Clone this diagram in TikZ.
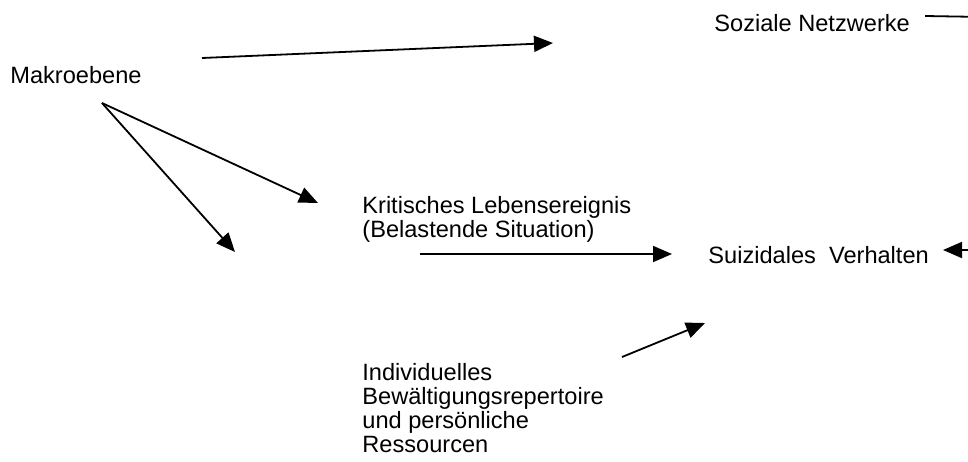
\documentclass[tikz,border=0pt]{standalone}
\usepackage{fontspec}
\setmainfont{Liberation Sans}
\usetikzlibrary{arrows.meta}
\tikzset{
  pfeil/.style={line width=0.9pt,-{Triangle[length=9.5pt,width=8pt]}},
  linie/.style={line width=0.9pt},
  txt/.style={inner sep=0pt,anchor=base west,align=left,font=\fontsize{11.8}{12}\selectfont}
}
\begin{document}
\begin{tikzpicture}[x=0.5pt,y=-0.5pt]
  \useasboundingbox (0,0) rectangle (968,461);

  % Texte (base west = Grundlinie der letzten Zeile)
  \node[txt] (makro) at (10,83) {Makroebene};
  \node[txt] (netz) at (714,31) {Soziale Netzwerke};
  \node[txt] (krit) at (362,237) {Kritisches Lebensereignis\\(Belastende Situation)};
  \node[txt] (suiz) at (708,263) {Suizidales\ \ Verhalten};
  \node[txt] (indiv) at (362,452) {Individuelles\\Bew\"altigungsrepertoire\\und pers\"onliche\\Ressourcen};

  \coordinate (m0) at (102,103);
  \coordinate (m1) at (318,203);
  \coordinate (m2) at (235,252);
  \coordinate (o0) at (202,58);
  \coordinate (o1) at (553,43);
  \coordinate (k0) at (420,254);
  \coordinate (k1) at (672,254);
  \coordinate (i0) at (622,357);
  \coordinate (i1) at (705,323);
  \coordinate (r0) at (985,250);
  \coordinate (r1) at (943,250);
  \coordinate (n0) at (925,16);
  \coordinate (n1) at (985,17);

  \draw[pfeil] (o0) -- (o1);
  \draw[pfeil] (m0) -- (m1);
  \draw[pfeil] (m0) -- (m2);
  \draw[pfeil] (k0) -- (k1);
  \draw[pfeil] (i0) -- (i1);
  \draw[pfeil] (r0) -- (r1);
  \draw[linie] (n0) -- (n1);
\end{tikzpicture}
\end{document}
